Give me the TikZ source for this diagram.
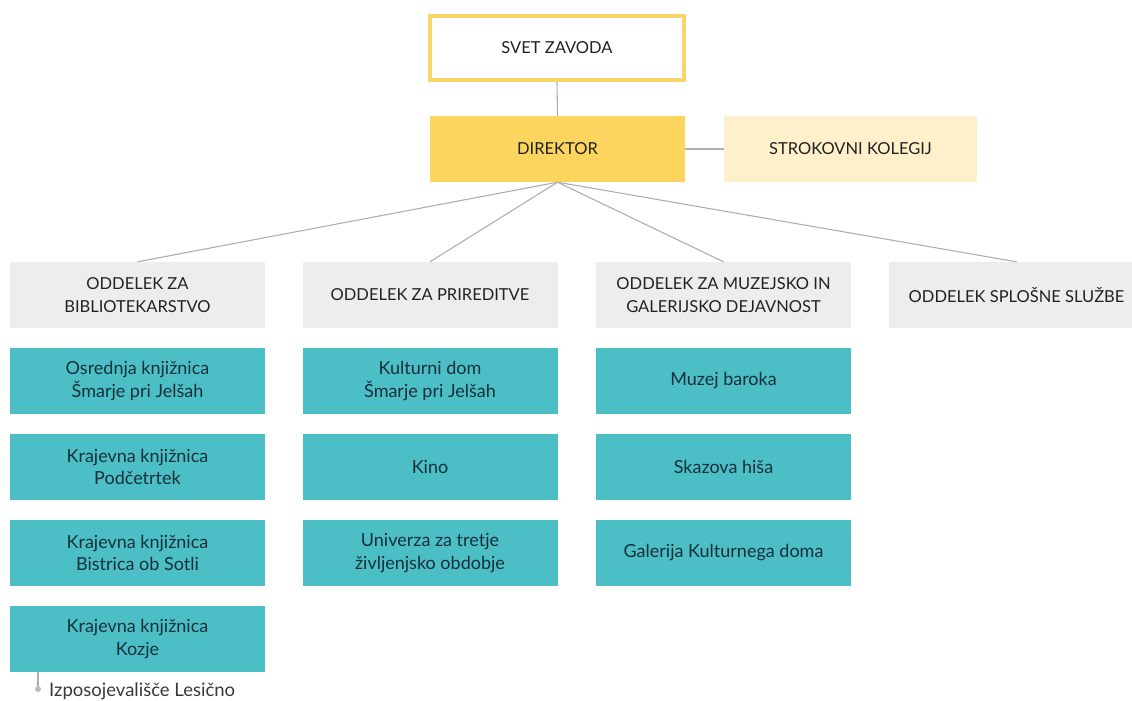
\documentclass[tikz,border=0pt]{standalone}
\usepackage{fontspec}
\setmainfont{Lato}
\definecolor{gold}{HTML}{FCD55F}
\definecolor{goldline}{HTML}{FAD66A}
\definecolor{pale}{HTML}{FEF0CA}
\definecolor{greybox}{HTML}{EDEDED}
\definecolor{teal}{HTML}{4BBEC6}
\definecolor{conn}{HTML}{AEAEAE}
\definecolor{darktext}{HTML}{222222}
\definecolor{navytext}{HTML}{16303A}
\begin{document}
\begin{tikzpicture}[x=1pt,y=-1pt,
  base/.style={rectangle,inner sep=0pt,align=center,font=\fontsize{16.5}{23}\selectfont,text=darktext},
  topbox/.style={base,draw=goldline,line width=4pt,fill=white,minimum width=254pt,minimum height=64pt},
  dirbox/.style={base,fill=gold,minimum width=255pt,minimum height=66pt},
  palebox/.style={base,fill=pale,minimum width=253pt,minimum height=66pt},
  deptbox/.style={base,fill=greybox,minimum width=255pt,minimum height=66pt},
  unitbox/.style={base,fill=teal,text=navytext,font=\fontsize{18}{22.5}\selectfont,minimum width=255pt,minimum height=66pt},
  link/.style={draw=conn,line width=1.1pt}]
\useasboundingbox (0,0) rectangle (1132,701);
\begin{scope}
\clip (0,0) rectangle (1132,701);
\node[topbox] (svet) at (557,48) {SVET ZAVODA};
\node[dirbox] (dir) at (557.5,149) {DIREKTOR};
\node[palebox] (strok) at (850.5,149) {STROKOVNI KOLEGIJ};

\node[deptbox] (d1) at (137.5,295) {ODDELEK ZA\\BIBLIOTEKARSTVO};
\node[deptbox] (d2) at (430,295) {ODDELEK ZA PRIREDITVE};
\node[deptbox] (d3) at (723.5,295) {ODDELEK ZA MUZEJSKO IN\\GALERIJSKO DEJAVNOST};
\node[deptbox] (d4) at (1016.5,295) {ODDELEK SPLOŠNE SLUŽBE};

\node[unitbox] (a1) at (137.5,381) {Osrednja knjižnica\\Šmarje pri Jelšah};
\node[unitbox] (a2) at (137.5,467) {Krajevna knjižnica\\Podčetrtek};
\node[unitbox] (a3) at (137.5,553) {Krajevna knjižnica\\Bistrica ob Sotli};
\node[unitbox] (a4) at (137.5,639) {Krajevna knjižnica\\Kozje};

\node[unitbox] (b1) at (430,381) {Kulturni dom\\Šmarje pri Jelšah};
\node[unitbox] (b2) at (430,467) {Kino};
\node[unitbox] (b3) at (430,553) {Univerza za tretje\\življenjsko obdobje};

\node[unitbox] (c1) at (723.5,381) {Muzej baroka};
\node[unitbox] (c2) at (723.5,467) {Skazova hiša};
\node[unitbox] (c3) at (723.5,553) {Galerija Kulturnega doma};

\draw[link] (svet.south) -- (dir.north);
\draw[link] (dir.east) -- (strok.west);
\foreach \d in {d1,d2,d3,d4} \draw[link] (dir.south) -- (\d.north);

\coordinate (izs) at (38,672);
\node[circle,fill=conn!80,inner sep=0pt,minimum size=6pt] (izdot) at (38,689) {};
\draw[draw=conn,line width=1.1pt] (izs) -- (izdot.north);
\node[base,anchor=west,text=darktext!90,font=\fontsize{18.5}{22}\selectfont] (iz) at (49,691) {Izposojevališče Lesično};
\end{scope}
\end{tikzpicture}
\end{document}
